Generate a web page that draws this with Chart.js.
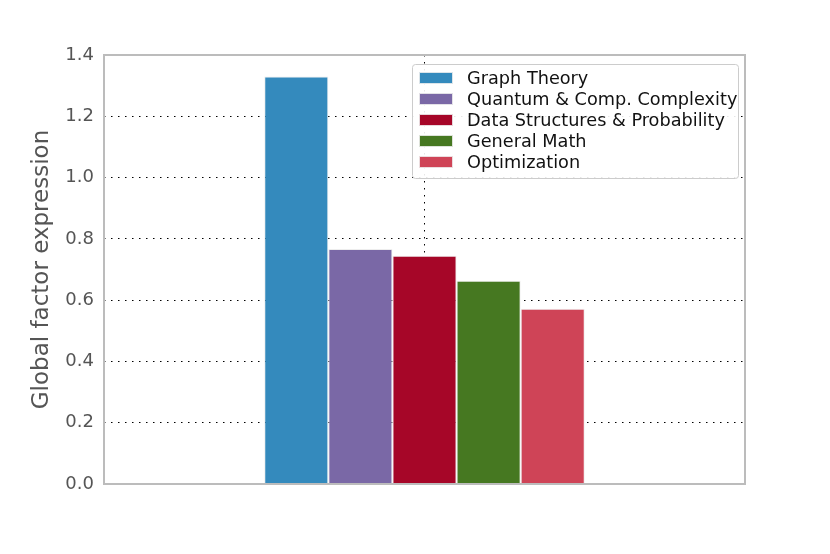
<!DOCTYPE html>
<html>
<head>
<meta charset="utf-8">
<script src="https://cdn.jsdelivr.net/npm/chart.js@4.4.1/dist/chart.umd.min.js"></script>
<style>
  html, body { margin: 0; padding: 0; background: #fff; }
  #wrap { width: 830px; height: 554px; }
</style>
</head>
<body>
<div id="wrap"><canvas id="factorChart" width="830" height="554"></canvas></div>
<script>
const seriesNames = ["Graph Theory", "Quantum & Comp. Complexity", "Data Structures & Probability", "General Math", "Optimization"];
const seriesValues = [1.33, 0.767, 0.745, 0.663, 0.572];
const seriesColors = ["#348ABD", "#7A68A6", "#A60628", "#467821", "#CF4457"];
const yTicks = [0.0, 0.2, 0.4, 0.6, 0.8, 1.0, 1.2, 1.4];

const FONT = "'DejaVu Sans', sans-serif";

// frame round the plot area, like matplotlib spines
const framePlugin = {
  id: "frame",
  afterDatasetsDraw(chart) {
    const { ctx, chartArea: a } = chart;
    ctx.save();
    ctx.strokeStyle = "#bcbcbc";
    ctx.lineWidth = 2;
    ctx.strokeRect(a.left, a.top, a.right - a.left, a.bottom - a.top);
    ctx.restore();
  }
};

// legend box in the upper right of the axes
const boxLegend = {
  id: "boxLegend",
  afterDraw(chart) {
    const { ctx } = chart;
    const x0 = 412, y0 = 64, w = 326, h = 114;
    ctx.save();
    ctx.fillStyle = "rgba(255,255,255,0.9)";
    ctx.strokeStyle = "#cccccc";
    ctx.lineWidth = 1;
    ctx.beginPath();
    ctx.roundRect(x0 + 0.5, y0 + 0.5, w, h, 3);
    ctx.fill();
    ctx.stroke();
    ctx.font = "17.7px " + FONT;
    ctx.textBaseline = "middle";
    chart.data.datasets.forEach((ds, i) => {
      const cy = 78 + i * 21;
      ctx.fillStyle = ds.backgroundColor;
      ctx.fillRect(419, cy - 6, 34, 12);
      ctx.strokeStyle = "rgba(238,238,238,0.9)";
      ctx.strokeRect(419.5, cy - 5.5, 33, 11);
      ctx.fillStyle = "#111";
      ctx.fillText(ds.label, 467, cy + 1);
    });
    ctx.restore();
  }
};

const chart = new Chart(document.getElementById("factorChart"), {
  type: "bar",
  data: {
    labels: [""],
    datasets: seriesNames.map((name, i) => ({
      label: name,
      data: [seriesValues[i]],
      backgroundColor: seriesColors[i],
      borderColor: "rgba(235,235,235,0.9)",
      borderWidth: 1,
      categoryPercentage: 0.5,
      barPercentage: 1.0
    }))
  },
  options: {
    responsive: false,
    animation: false,
    devicePixelRatio: 1,
    layout: { padding: { top: 55, right: 85, bottom: 70, left: 0 } },
    plugins: { legend: { display: false }, tooltip: { enabled: false } },
    scales: {
      x: {
        grid: { offset: false, color: "#000", lineWidth: 1, drawTicks: false },
        border: { display: false, dash: [1.5, 5.5] },
        ticks: { display: false },
        afterFit: s => { s.height = 0; }
      },
      y: {
        min: 0,
        max: 1.4,
        afterBuildTicks: s => { s.ticks = yTicks.map(v => ({ value: v })); },
        grid: { color: "#000", lineWidth: 1, drawTicks: false },
        border: { display: false, dash: [1.5, 5.5] },
        ticks: {
          padding: 10,
          color: "#555",
          font: { family: FONT, size: 18 },
          callback: v => v.toFixed(1)
        },
        title: {
          display: true,
          text: "Global factor expression",
          color: "#555",
          font: { family: FONT, size: 23 },
          padding: { top: 28, bottom: 0 }
        },
        afterFit: s => { s.width = 104; }
      }
    }
  },
  plugins: [framePlugin, boxLegend]
});
</script>
</body>
</html>
